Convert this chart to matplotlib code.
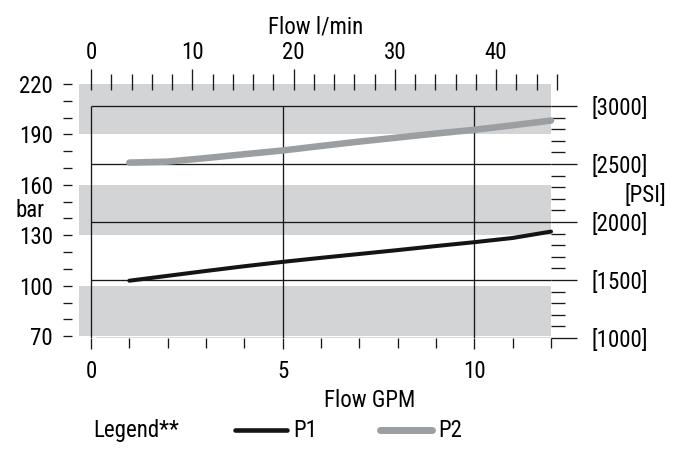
import matplotlib
matplotlib.use('Agg')
import matplotlib.pyplot as plt
from matplotlib import font_manager as fm
from matplotlib.ticker import FixedLocator, NullFormatter, FuncFormatter
from matplotlib.lines import Line2D

W, H, DPI = 679, 451, 100

# ---------------- data ----------------
flow_gpm = [1, 2, 3, 4, 5, 6, 7, 8, 9, 10, 11, 12]
p1_bar = [103.0, 105.9, 108.8, 111.6, 114.2, 116.6, 118.9, 121.2, 123.6, 125.9, 128.4, 132.2]
p2_bar = [173.2, 173.8, 175.9, 178.2, 180.4, 183.1, 185.7, 188.1, 190.5, 192.7, 195.4, 198.2]
series_names = ['P1', 'P2']

bar_major = [70, 100, 130, 160, 190, 220]
bar_minor = [80, 90, 110, 120, 140, 150, 170, 180, 200, 210]
gpm_major = [0, 5, 10]
gpm_minor = [1, 2, 3, 4, 6, 7, 8, 9, 11, 12]
lpm_major = [0, 10, 20, 30, 40]
lpm_minor = [2, 4, 6, 8, 12, 14, 16, 18, 22, 24, 26, 28, 32, 34, 36, 38, 42, 44, 46]
psi_major = [1000, 1500, 2000, 2500, 3000]
psi_minor = [1100, 1200, 1300, 1400, 1600, 1700, 1800, 1900,
             2100, 2200, 2300, 2400, 2600, 2700, 2800, 2900]
bands_bar = [(70, 100), (130, 160), (190, 220)]

GPM_TO_LPM = 3.785
BAR_TO_PSI = 14.5038

# ---------------- font ----------------
def pick_font():
    for fam in ['Liberation Sans Narrow', 'Roboto Condensed', 'Open Sans Condensed', 'Liberation Sans']:
        try:
            fm.findfont(fm.FontProperties(family=fam), fallback_to_default=False)
            return fam
        except Exception:
            pass
    return 'DejaVu Sans'

FONT = pick_font()
plt.rcParams['font.family'] = [FONT, 'DejaVu Sans']
FS = 16.5
INK = '#1a1a1a'
BAND = '#d3d4d6'
GREY = '#9b9fa1'

fig = plt.figure(figsize=(W / DPI, H / DPI), dpi=DPI)

def px(x, y):
    return x / W, 1 - y / H

# axes spans pixel x 79..577, y 83.9..338.1
ax = fig.add_axes([79 / W, (451 - 338.08) / H, 498 / W, 254.2 / H])
ax.set_xlim(-0.3130, 12.678)
ax.set_ylim(68.9, 220)
ax.patch.set_visible(False)
for s in ax.spines.values():
    s.set_visible(False)

# bands
band_xmax = (551 - 79) / 498
for lo, hi in bands_bar:
    ax.axhspan(lo, hi, xmin=0, xmax=band_xmax, color=BAND, lw=0, zorder=0)

# grid lines (psi)
psi_bar = [p / BAR_TO_PSI for p in psi_major]
for p, b in zip(psi_major, psi_bar):
    x0 = 0.1 if p == 1000 else 0
    ax.plot([x0, 12], [b, b], color=INK, lw=0.95, zorder=2, solid_capstyle='butt')
for g in gpm_major:
    ax.plot([g, g], [psi_bar[0], psi_bar[-1]], color=INK, lw=0.95, zorder=2, solid_capstyle='butt')

# curves
ax.plot(flow_gpm, p1_bar, color='#141414', lw=2.9, solid_capstyle='round', zorder=4)
ax.plot(flow_gpm, p2_bar, color=GREY, lw=4.7, solid_capstyle='round', zorder=4)

# left axis ticks (bar)
ax.spines['left'].set_position(('outward', 7 * 0.72))
ax.yaxis.set_major_locator(FixedLocator(bar_major))
ax.yaxis.set_minor_locator(FixedLocator(bar_minor))
ax.yaxis.set_minor_formatter(NullFormatter())
ax.tick_params(axis='y', which='both', direction='out', length=9 * 0.72, width=0.95,
               color=INK, labelsize=FS, pad=10 * 0.72, labelcolor='black')

# bottom axis ticks (GPM)
ax.xaxis.set_major_locator(FixedLocator(gpm_major))
ax.xaxis.set_minor_locator(FixedLocator(gpm_minor))
ax.xaxis.set_minor_formatter(NullFormatter())
ax.tick_params(axis='x', which='major', direction='out', length=11 * 0.72, width=0.95,
               color=INK, labelsize=FS, pad=11 * 0.72)
ax.tick_params(axis='x', which='minor', direction='out', length=10 * 0.72, width=0.95, color=INK)

# top axis (l/min)
top_loc = (338.08 - 90) / 254.2
sx = ax.secondary_xaxis(top_loc, functions=(lambda g: g * GPM_TO_LPM, lambda l: l / GPM_TO_LPM))
for s in sx.spines.values():
    s.set_visible(False)
sx.xaxis.set_major_locator(FixedLocator(lpm_major))
sx.xaxis.set_minor_locator(FixedLocator(lpm_minor))
sx.xaxis.set_minor_formatter(NullFormatter())
sx.tick_params(axis='x', which='major', direction='out', length=21 * 0.72, width=0.95,
               color=INK, labelsize=FS, pad=5 * 0.72)
sx.tick_params(axis='x', which='minor', direction='out', length=16 * 0.72, width=0.95, color=INK)

# right axis (psi)
right_loc = (551 - 79) / 498
sy = ax.secondary_yaxis(right_loc, functions=(lambda b: b * BAR_TO_PSI, lambda p: p / BAR_TO_PSI))
for s in sy.spines.values():
    s.set_visible(False)
sy.yaxis.set_major_locator(FixedLocator(psi_major))
sy.yaxis.set_minor_locator(FixedLocator(psi_minor))
sy.yaxis.set_major_formatter(FuncFormatter(lambda v, p: '[%d]' % round(v)))
sy.yaxis.set_minor_formatter(NullFormatter())
sy.tick_params(axis='y', which='major', direction='out', length=26 * 0.72, width=0.95,
               color=INK, labelsize=FS, pad=14.7 * 0.72)
sy.tick_params(axis='y', which='minor', direction='out', length=14 * 0.72, width=0.95, color=INK)

# titles / unit labels
fig.text(*px(316, 33.3), 'Flow l/min', ha='center', va='baseline', fontsize=FS)
fig.text(*px(370, 406.7), 'Flow GPM', ha='center', va='baseline', fontsize=FS)
fig.text(*px(30, 217), 'bar', ha='center', va='baseline', fontsize=FS)
fig.text(*px(645, 201.7), '[PSI]', ha='center', va='baseline', fontsize=FS)

# legend
fig.text(*px(93, 436.7), 'Legend**', ha='left', va='baseline', fontsize=FS)
fig.add_artist(Line2D([235 / W, 287 / W], [1 - 430 / H] * 2, transform=fig.transFigure,
                      color='#141414', lw=3.3, solid_capstyle='round'))
fig.text(*px(293, 436.7), series_names[0], ha='left', va='baseline', fontsize=FS)
fig.add_artist(Line2D([380 / W, 432 / W], [1 - 430 / H] * 2, transform=fig.transFigure,
                      color=GREY, lw=5.0, solid_capstyle='round'))
fig.text(*px(438, 436.7), series_names[1], ha='left', va='baseline', fontsize=FS)

fig.savefig('out.png', dpi=DPI)
